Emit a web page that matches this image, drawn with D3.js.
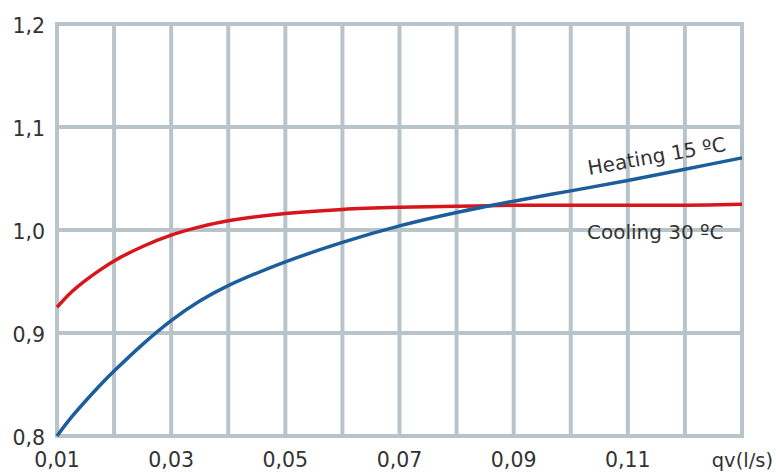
<!DOCTYPE html>
<html><head><meta charset="utf-8">
<script src="https://cdn.jsdelivr.net/npm/d3@7"></script>
<style>body{margin:0;background:#fff;} text{font-family:"DejaVu Sans",sans-serif;fill:#333;}</style>
</head><body>
<svg id="c" width="776" height="473"></svg>
<script>
const xValues = [0.01,0.0125,0.015,0.0175,0.02,0.025,0.03,0.035,0.04,0.05,0.06,0.07,0.08,0.09,0.10,0.11,0.12,0.13];
const heating = [0.800,0.818,0.834,0.849,0.863,0.889,0.912,0.931,0.946,0.969,0.988,1.004,1.017,1.028,1.038,1.048,1.059,1.070];
const cooling = [0.925,0.9395,0.951,0.961,0.970,0.984,0.995,1.003,1.009,1.016,1.020,1.022,1.023,1.024,1.024,1.024,1.024,1.025];
const xTickLabels = ["0,01","0,03","0,05","0,07","0,09","0,11"];
const yTickLabels = ["0,8","0,9","1,0","1,1","1,2"];

const svg = d3.select("#c");
const x = d3.scaleLinear().domain([0.01,0.13]).range([57,742]);
const y = d3.scaleLinear().domain([0.8,1.2]).range([436,24]);
const grid = "#b9c3ca";

const g = svg.append("g");
d3.range(0,13).forEach(i=>{
  const v = 0.01 + i*0.01;
  g.append("line").attr("x1",x(v)).attr("x2",x(v)).attr("y1",y(1.2)-2).attr("y2",y(0.8)+2)
   .attr("stroke",grid).attr("stroke-width",4);
});
[0.8,0.9,1.0,1.1,1.2].forEach(v=>{
  g.append("line").attr("x1",x(0.01)-2).attr("x2",x(0.13)+2).attr("y1",y(v)).attr("y2",y(v))
   .attr("stroke",grid).attr("stroke-width",4);
});

yTickLabels.forEach((t,i)=>{
  svg.append("text").attr("x",45).attr("y",y(0.8+i*0.1)+9).attr("text-anchor","end")
    .attr("font-size",20.5).text(t);
});
xTickLabels.forEach((t,i)=>{
  svg.append("text").attr("x",x(0.01+i*0.02)).attr("y",467).attr("text-anchor","middle")
    .attr("font-size",20.5).text(t);
});
svg.append("text").attr("x",773).attr("y",467).attr("text-anchor","end").attr("font-size",19.5).text("qv(l/s)");

const line = d3.line().x((d,i)=>x(xValues[i])).y(d=>y(d)).curve(d3.curveCatmullRom.alpha(0.5));
svg.append("path").attr("d",line(cooling)).attr("fill","none").attr("stroke","#d8141c").attr("stroke-width",3.5);
svg.append("path").attr("d",line(heating)).attr("fill","none").attr("stroke","#1c5e9b").attr("stroke-width",3.5);

svg.append("text").attr("transform","translate(589,175) rotate(-10)").attr("font-size",20).text("Heating 15 ºC");
svg.append("text").attr("x",587).attr("y",239).attr("font-size",20).text("Cooling 30 ºC");
</script>
</body></html>
